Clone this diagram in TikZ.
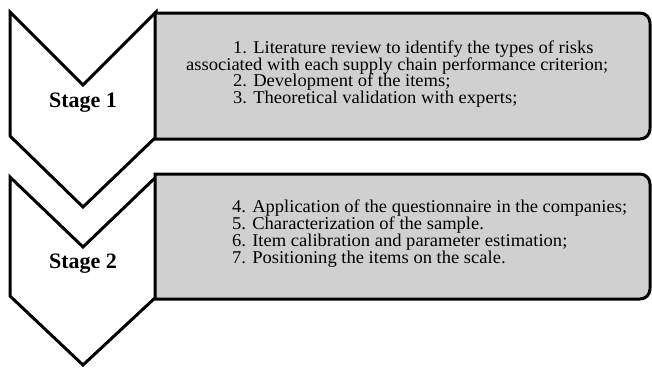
\documentclass[tikz,border=0pt]{standalone}
\usepackage{fontspec}
\setmainfont{Liberation Serif}
\newfontfamily\itemfont[FakeStretch=1.03]{Liberation Serif}
\definecolor{boxgray}{RGB}{208,208,208}
\begin{document}
\begin{tikzpicture}[x=1pt,y=-1pt,
  chevron/.style={draw=black,fill=white,line width=3pt,line join=miter},
  stepbox/.style={draw=black,fill=boxgray,line width=3pt,line join=miter},
  stagelabel/.style={font=\fontsize{22}{24}\selectfont\bfseries,inner sep=0pt,anchor=base},
  itemline/.style={font=\itemfont\fontsize{18}{17}\selectfont,inner sep=0pt,anchor=base west}]
\useasboundingbox (0,0) rectangle (652,367);
% Stage 1
\draw[chevron] (10,12) -- (83,85) -- (156,12) -- (156,137) -- (83,207) -- (10,136) -- cycle;
\draw[stepbox] (155,13) [rounded corners=10pt] -- (650,13) -- (650,139) [sharp corners] -- (155,139) -- cycle;
% Stage 2
\draw[chevron] (10,177) -- (83,247) -- (156,177) -- (156,297) -- (83,365) -- (10,296) -- cycle;
\draw[stepbox] (155,174) [rounded corners=10pt] -- (650,174) -- (650,299) [sharp corners] -- (155,299) -- cycle;
\node[stagelabel] (s1) at (83,107.5) {Stage 1};
\node[stagelabel] (s2) at (83,268.5) {Stage 2};
\node[itemline] (a1) at (233,53.3) {1. Literature review to identify the types of risks};
\node[itemline] (a2) at (186,70) {associated with each supply chain performance criterion;};
\node[itemline] (a3) at (233,86.7) {2. Development of the items;};
\node[itemline] (a4) at (233,103.3) {3. Theoretical validation with experts;};
\node[itemline] (b1) at (232,212.7) {4. Application of the questionnaire in the companies;};
\node[itemline] (b2) at (232,229.5) {5. Characterization of the sample.};
\node[itemline] (b3) at (232,246.3) {6. Item calibration and parameter estimation;};
\node[itemline] (b4) at (232,263.2) {7. Positioning the items on the scale.};
\end{tikzpicture}
\end{document}
